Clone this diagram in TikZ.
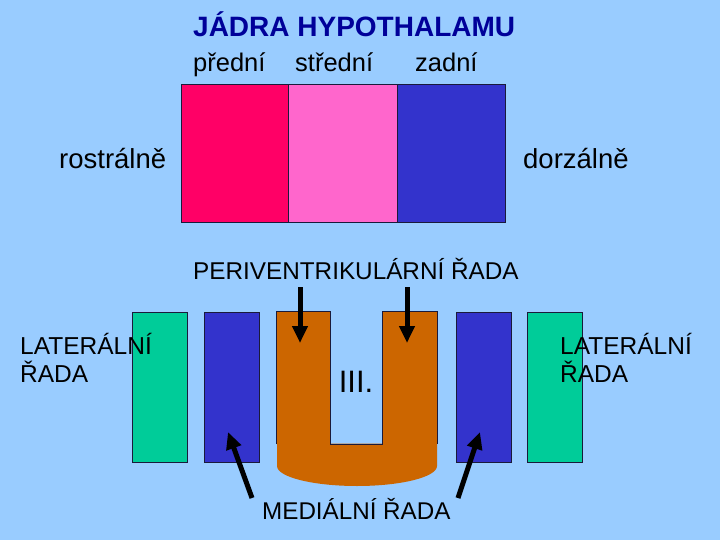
\documentclass[tikz,border=0pt]{standalone}
\usepackage{fontspec}
\setmainfont{Liberation Sans}
\usetikzlibrary{arrows.meta}
\definecolor{bg}{HTML}{99CCFF}
\definecolor{cred}{HTML}{FF0066}
\definecolor{cpink}{HTML}{FF66CC}
\definecolor{cblue}{HTML}{3333CC}
\definecolor{cgreen}{HTML}{00CC99}
\definecolor{corange}{HTML}{CC6600}
\definecolor{ctitle}{HTML}{000099}
\definecolor{cedge}{HTML}{1A1A3A}
\begin{document}
\begin{tikzpicture}[x=1pt,y=-1pt,
  box/.style={draw=cedge, line width=0.8pt, inner sep=0pt, rectangle},
  lbl/.style={inner sep=0pt, anchor=base west, text=black},
  arr/.style={line width=5pt, -{Triangle[length=17pt,width=15pt]}},
]
\useasboundingbox[fill=bg] (0,0) rectangle (720,540);

% title and labels
\node[lbl, text=ctitle, font=\fontsize{28}{32}\selectfont\bfseries] (title) at (193,37) {JÁDRA HYPOTHALAMU};
\node[lbl, font=\fontsize{25.5}{30}\selectfont] (predni) at (193,72) {přední};
\node[lbl, font=\fontsize{25.5}{30}\selectfont] (stredni) at (295,72) {střední};
\node[lbl, font=\fontsize{25.5}{30}\selectfont] (zadni) at (415,72) {zadní};

% top boxes
\node[box, fill=cred, minimum width=107pt, minimum height=138pt] (bA) at (234.5,153) {};
\node[box, fill=cpink, minimum width=109pt, minimum height=138pt] (bS) at (342.5,153) {};
\node[box, fill=cblue, minimum width=108pt, minimum height=138pt] (bZ) at (451,153) {};

\node[lbl, font=\fontsize{27.5}{32}\selectfont] (rostr) at (59,169) {rostrálně};
\node[lbl, font=\fontsize{27.5}{32}\selectfont] (dorz) at (523,169) {dorzálně};

\node[lbl, font=\fontsize{24.3}{29}\selectfont] (peri) at (193,279) {PERIVENTRIKULÁRNÍ ŘADA};

% bottom boxes
\node[box, fill=cgreen, minimum width=55pt, minimum height=150pt] (gL) at (159.5,387) {};
\node[box, fill=cblue, minimum width=55pt, minimum height=150pt] (mL) at (231.5,387) {};
\node[box, fill=cblue, minimum width=55pt, minimum height=150pt] (mR) at (483.5,387) {};
\node[box, fill=cgreen, minimum width=55pt, minimum height=150pt] (gR) at (554.5,387) {};

% U-shaped third ventricle
\node[fill=corange, inner sep=0pt, minimum width=53pt, minimum height=132pt] (armL) at (303.5,378) {};
\node[fill=corange, inner sep=0pt, minimum width=54pt, minimum height=132pt] (armR) at (410,378) {};
\fill[corange] (277,443.5) -- (277,466) .. controls (277,477) and (312.8,486) .. (357,486)
  .. controls (401.2,486) and (437,477) .. (437,466) -- (437,443.5) -- cycle;
\draw[cedge, line width=0.8pt] (armL.south west) -- (armL.north west) -- (armL.north east) -- (armL.south east)
  -- (armR.south west) -- (armR.north west) -- (armR.north east) -- (armR.south east);
\node[inner sep=0pt, anchor=base, font=\fontsize{31}{36}\selectfont] (iii) at (356,392) {III.};

% side labels
\node[lbl, align=left, font=\fontsize{24.5}{28}\selectfont] (latL) at (20,382) {LATERÁLNÍ\\ŘADA};
\node[lbl, align=left, font=\fontsize{24.5}{28}\selectfont] (latR) at (560,382) {LATERÁLNÍ\\ŘADA};

\node[lbl, font=\fontsize{24.2}{29}\selectfont] (med) at (262,519) {MEDIÁLNÍ ŘADA};

% arrows
\coordinate (pA) at (300,287);
\coordinate (pAt) at (300,343);
\coordinate (pB) at (407,287);
\coordinate (pBt) at (407,343);
\coordinate (mA) at (252,498);
\coordinate (mAt) at (228,432);
\coordinate (mB) at (458,498);
\coordinate (mBt) at (480,432);
\draw[arr] (pA) -- (pAt);
\draw[arr] (pB) -- (pBt);
\draw[arr] (mA) -- (mAt);
\draw[arr] (mB) -- (mBt);
\end{tikzpicture}
\end{document}
